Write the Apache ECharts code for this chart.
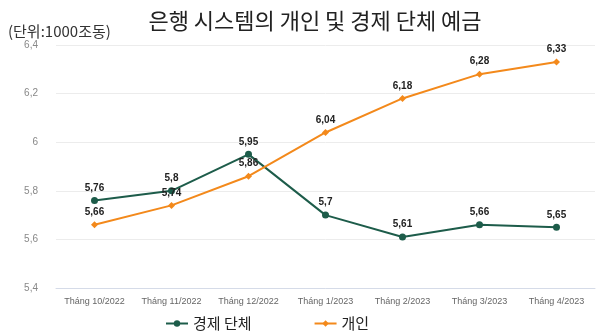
<!DOCTYPE html>
<html><head><meta charset="utf-8">
<script src="https://cdn.jsdelivr.net/npm/echarts@6/dist/echarts.min.js"></script>
<style>html,body{margin:0;padding:0;background:#fff}#c{width:600px;height:336px}</style>
</head><body><div id="c"></div>
<script>
const categories = ['Tháng 10/2022','Tháng 11/2022','Tháng 12/2022','Tháng 1/2023','Tháng 2/2023','Tháng 3/2023','Tháng 4/2023'];
const orgValues = [5.76, 5.8, 5.95, 5.7, 5.61, 5.66, 5.65];
const indValues = [5.66, 5.74, 5.86, 6.04, 6.18, 6.28, 6.33];
const seriesNames = ['경제 단체', '개인'];
const fmt = v => String(v).replace('.', ',');
const chart = echarts.init(document.getElementById('c'));
const lbl = {show:true, position:'top', distance:4, color:'#222', fontSize:10, fontWeight:'bold', fontFamily:'Liberation Sans, Arial', formatter:p=>fmt(p.value)};
chart.setOption({
  animation:false,
  title:[{text:'은행 시스템의 개인 및 경제 단체 예금', left:310, textAlign:'center', top:5, textStyle:{fontFamily:'Noto Sans CJK KR', fontSize:22, fontWeight:'normal', color:'#222'}},
         {text:'(단위:1000조동)', left:3, top:19, textStyle:{fontFamily:'Noto Sans CJK KR', fontSize:15, fontWeight:'normal', color:'#333'}}],
  legend:{bottom:0, left:160, itemGap:62, itemWidth:22, itemHeight:8, textStyle:{fontFamily:'Noto Sans CJK KR', fontSize:15, color:'#222'}, data:seriesNames},
  grid:{left:56, right:5, top:45, bottom:48},
  xAxis:{type:'category', data:categories, boundaryGap:true,
    axisLine:{lineStyle:{color:'#d5dbe8'}}, axisTick:{show:false},
    axisLabel:{interval:0, color:'#666', fontSize:9, fontFamily:'Liberation Sans, Arial', margin:9}},
  yAxis:{type:'value', min:5.4, max:6.4, interval:0.2,
    axisLabel:{color:'#888', fontSize:10, fontFamily:'Liberation Sans, Arial', margin:18, formatter:v=>fmt(Math.round(v*10)/10)},
    splitLine:{lineStyle:{color:'#ececec'}}},
  series:[
    {name:seriesNames[0], type:'line', data:orgValues, symbol:'circle', symbolSize:7, color:'#1d5c4a', lineStyle:{width:2}, label:lbl},
    {name:seriesNames[1], type:'line', data:indValues, symbol:'diamond', symbolSize:7, color:'#f3891b', lineStyle:{width:2}, label:lbl}
  ]
});
</script></body></html>
